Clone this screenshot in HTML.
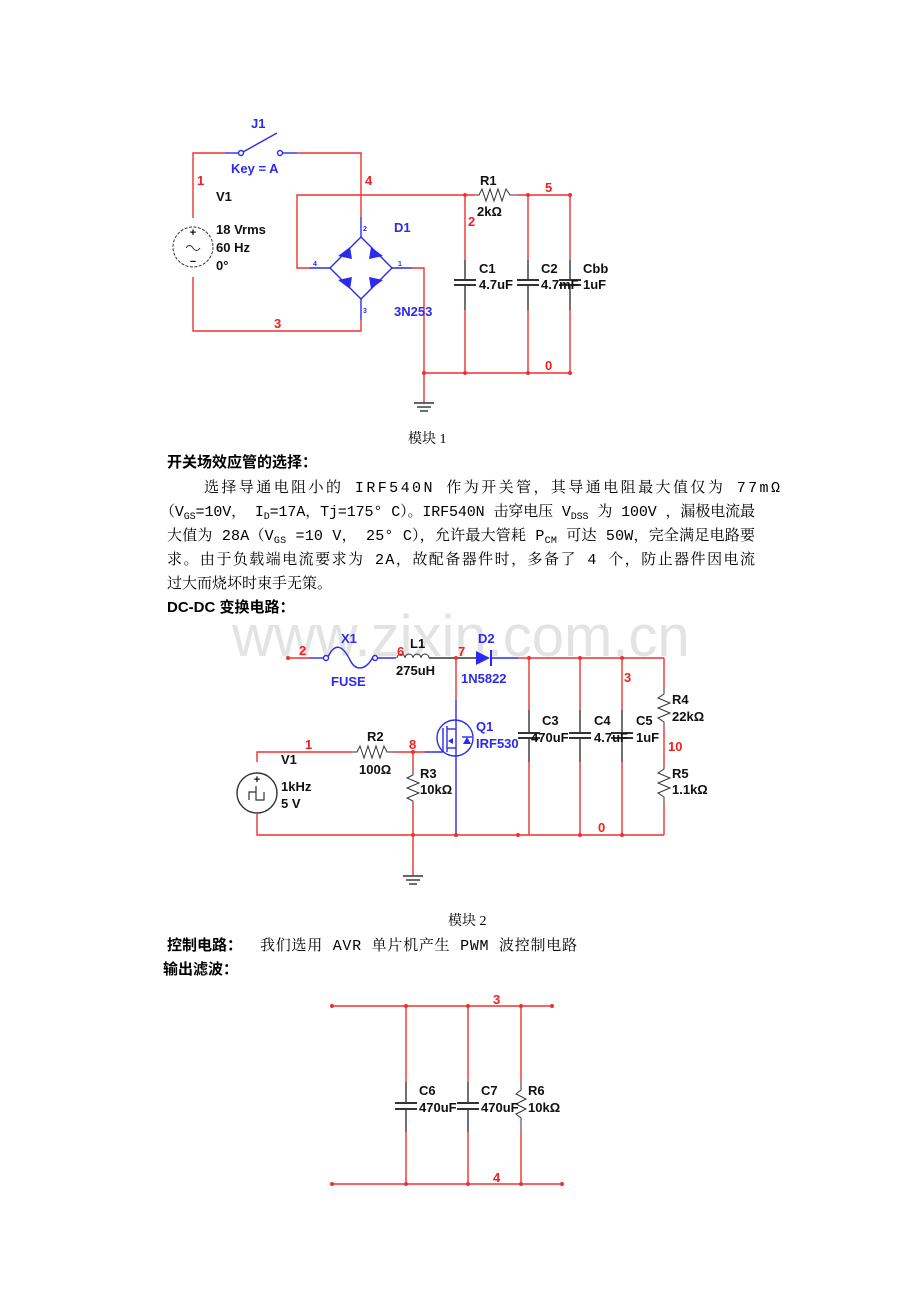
<!DOCTYPE html>
<html><head><meta charset="utf-8"><style>
html,body{margin:0;padding:0;background:#fff;}
svg{display:block}
.r{stroke:#f03030;stroke-width:1.4;fill:none}
.b{stroke:#2b2bf0;stroke-width:1.4;fill:none}
.k{stroke:#333;stroke-width:1.4;fill:none}
.t{font-family:"Liberation Sans",sans-serif;font-weight:bold;font-size:13px;fill:#111}
.tb{font-family:"Liberation Sans",sans-serif;font-weight:bold;font-size:13px;fill:#2b2bf0}
.tr{font-family:"Liberation Sans",sans-serif;font-weight:bold;font-size:13px;fill:#f02020}
.p{font-family:"Liberation Mono","Noto Serif CJK SC",serif;font-size:15px;fill:#000}
.c{font-family:"Liberation Serif","Noto Serif CJK SC",serif;font-size:14px;fill:#000}
.h{font-family:"Liberation Sans","Noto Sans CJK SC",sans-serif;font-size:15px;fill:#000;font-weight:bold}
.d{fill:#f03030}
</style></head><body>
<svg width="920" height="1302" viewBox="0 0 920 1302" xmlns="http://www.w3.org/2000/svg">
<!-- ===== Circuit 1 ===== -->
<polyline class="r" points="193,218 193,153 225,153"/>
<polyline class="b" points="225,153 238,153"/>
<circle cx="241" cy="153" r="2.5" class="b"/>
<line x1="243" y1="152" x2="277" y2="133" class="b"/>
<circle cx="280" cy="153" r="2.5" class="b"/>
<line x1="283" y1="153" x2="297" y2="153" class="b"/>
<polyline class="r" points="297,153 361,153 361,217"/>
<circle cx="193" cy="247" r="20" style="stroke:#333;fill:none;stroke-dasharray:3,1.5"/>
<text x="193" y="236" text-anchor="middle" class="t" style="font-size:11px">+</text>
<text x="193" y="265" text-anchor="middle" class="t" style="font-size:11px">−</text>
<path d="M186,248 q3.5,-5 7,0 t7,0" class="k" style="stroke-width:1"/>
<polyline class="r" points="193,277 193,331 361,331 361,320"/>
<line x1="361" y1="217" x2="361" y2="237" class="b"/>
<line x1="361" y1="299" x2="361" y2="320" class="b"/>
<polygon points="361,237 392,268 361,299 330,268" class="b"/>
<g fill="#2b2bf0">
<polygon points="338,256 350,247 352,259"/>
<polygon points="371,247 383,256 369,259"/>
<polygon points="338,280 352,277 350,289"/>
<polygon points="383,280 371,289 369,277"/>
</g>
<line x1="309" y1="268" x2="330" y2="268" class="b"/>
<line x1="392" y1="268" x2="412" y2="268" class="b"/>
<polyline class="r" points="309,268 297,268 297,195 475,195"/>
<polyline class="r" points="412,268 424,268 424,403"/>
<line x1="414" y1="403" x2="434" y2="403" class="k"/>
<line x1="417" y1="407" x2="431" y2="407" class="k"/>
<line x1="420" y1="411" x2="428" y2="411" class="k"/>
<polyline class="k" style="stroke-width:1" points="475,195 479,195 482,189 486,201 490,189 494,201 498,189 502,201 506,189 510,195 518,195"/>
<line x1="518" y1="195" x2="570" y2="195" class="r"/>
<line x1="424" y1="373" x2="570" y2="373" class="r"/>
<g>
<line x1="465" y1="195" x2="465" y2="260" class="r"/><line x1="465" y1="260" x2="465" y2="279" class="k"/>
<line x1="454" y1="280" x2="476" y2="280" class="k" style="stroke-width:2"/><line x1="454" y1="285" x2="476" y2="285" class="k" style="stroke-width:2"/>
<line x1="465" y1="286" x2="465" y2="310" class="k"/><line x1="465" y1="310" x2="465" y2="373" class="r"/>
<line x1="528" y1="195" x2="528" y2="260" class="r"/><line x1="528" y1="260" x2="528" y2="279" class="k"/>
<line x1="517" y1="280" x2="539" y2="280" class="k" style="stroke-width:2"/><line x1="517" y1="285" x2="539" y2="285" class="k" style="stroke-width:2"/>
<line x1="528" y1="286" x2="528" y2="310" class="k"/><line x1="528" y1="310" x2="528" y2="373" class="r"/>
<line x1="570" y1="195" x2="570" y2="260" class="r"/><line x1="570" y1="260" x2="570" y2="279" class="k"/>
<line x1="559" y1="280" x2="581" y2="280" class="k" style="stroke-width:2"/><line x1="559" y1="285" x2="581" y2="285" class="k" style="stroke-width:2"/>
<line x1="570" y1="286" x2="570" y2="310" class="k"/><line x1="570" y1="310" x2="570" y2="373" class="r"/>
</g>
<g class="d"><circle cx="465" cy="195" r="2"/><circle cx="528" cy="195" r="2"/><circle cx="570" cy="195" r="2"/>
<circle cx="424" cy="373" r="2"/><circle cx="465" cy="373" r="2"/><circle cx="528" cy="373" r="2"/><circle cx="570" cy="373" r="2"/></g>
<text x="251" y="128" class="tb">J1</text>
<text x="231" y="173" class="tb">Key = A</text>
<text x="197" y="185" class="tr">1</text>
<text x="365" y="185" class="tr">4</text>
<text x="216" y="201" class="t">V1</text>
<text x="216" y="234" class="t">18 Vrms</text>
<text x="216" y="252" class="t">60 Hz</text>
<text x="216" y="270" class="t">0°</text>
<text x="480" y="185" class="t">R1</text>
<text x="477" y="216" class="t">2kΩ</text>
<text x="468" y="226" class="tr">2</text>
<text x="545" y="192" class="tr">5</text>
<text x="394" y="232" class="tb">D1</text>
<text x="363" y="231" class="tb" style="font-size:7px">2</text>
<text x="313" y="266" class="tb" style="font-size:7px">4</text>
<text x="398" y="266" class="tb" style="font-size:7px">1</text>
<text x="363" y="313" class="tb" style="font-size:7px">3</text>
<text x="479" y="273" class="t">C1</text>
<text x="479" y="289" class="t">4.7uF</text>
<text x="541" y="273" class="t">C2</text>
<text x="541" y="289" class="t">4.7mF</text>
<text x="583" y="273" class="t">Cbb</text>
<text x="583" y="289" class="t">1uF</text>
<text x="394" y="316" class="tb">3N253</text>
<text x="274" y="328" class="tr">3</text>
<text x="545" y="370" class="tr">0</text>
<text x="408" y="443" class="c">模块 1</text>
<!-- text -->
<text x="167" y="467" class="h">开关场效应管的选择：</text>
<text x="204" y="492" class="p" textLength="576" lengthAdjust="spacing">选择导通电阻小的 IRF540N 作为开关管，其导通电阻最大值仅为 77mΩ</text>
<text x="160" y="516" class="p" textLength="595" lengthAdjust="spacing">（V<tspan font-size="10" dy="3">GS</tspan><tspan dy="-3">=10V， I</tspan><tspan font-size="10" dy="3">D</tspan><tspan dy="-3">=17A，Tj=175° C）。IRF540N 击穿电压 V</tspan><tspan font-size="10" dy="3">DSS</tspan><tspan dy="-3"> 为 100V ，漏极电流最</tspan></text>
<text x="167" y="540" class="p" textLength="588" lengthAdjust="spacing">大值为 28A（V<tspan font-size="10" dy="3">GS</tspan><tspan dy="-3"> =10 V， 25° C），允许最大管耗 P</tspan><tspan font-size="10" dy="3">CM</tspan><tspan dy="-3"> 可达 50W，完全满足电路要</tspan></text>
<text x="167" y="564" class="p" textLength="588" lengthAdjust="spacing">求。由于负载端电流要求为 2A，故配备器件时，多备了 4 个，防止器件因电流</text>
<text x="167" y="588" class="p">过大而烧坏时束手无策。</text>
<text x="167" y="612" class="h">DC-DC 变换电路：</text>
<!-- watermark -->
<text x="232" y="656" style="font-family:'Liberation Sans',sans-serif;font-size:58px;fill:#e3e3e3">www.zixin.com.cn</text>
<!-- ===== Circuit 2 ===== -->
<line x1="288" y1="658" x2="309" y2="658" class="r"/>
<line x1="309" y1="658" x2="324" y2="658" class="b"/>
<circle cx="326" cy="658" r="2.5" class="b"/><circle cx="375" cy="658" r="2.5" class="b"/>
<path d="M328,657 C336,640 344,648 350,660 C356,672 366,670 373,657" class="b"/>
<line x1="377" y1="658" x2="396" y2="658" class="b"/>
<path d="M397,658 a4,4 0 0 1 8,0 a4,4 0 0 1 8,0 a4,4 0 0 1 8,0 a4,4 0 0 1 8,0" class="k" style="stroke-width:1"/>
<line x1="429" y1="658" x2="476" y2="658" class="k"/>
<polygon points="476,651 476,665 490,658" fill="#2b2bf0"/>
<line x1="491" y1="650" x2="491" y2="666" class="b" style="stroke-width:2"/>
<line x1="491" y1="658" x2="518" y2="658" class="b"/>
<line x1="518" y1="658" x2="664" y2="658" class="r"/>
<line x1="456" y1="658" x2="456" y2="700" class="r"/>
<line x1="456" y1="700" x2="456" y2="835" class="b"/>
<circle cx="455" cy="738" r="18" class="b"/>
<line x1="425" y1="752" x2="443" y2="752" class="b"/>
<line x1="443" y1="728" x2="443" y2="752" class="b"/>
<line x1="447" y1="726" x2="447" y2="752" class="b"/>
<polyline class="b" points="447,729 456,729"/><polyline class="b" points="447,748 456,748"/>
<polygon points="448,741 453,738 453,744" fill="#2b2bf0"/>
<polygon points="463,744 467,737 471,744" fill="#2b2bf0"/>
<line x1="462" y1="737" x2="472" y2="737" class="b"/>
<polyline class="r" points="257,762 257,752 352,752"/>
<polyline class="k" style="stroke-width:1" points="352,752 357,752 360,746 364,758 368,746 372,758 376,746 380,758 384,746 387,752 393,752"/>
<line x1="393" y1="752" x2="425" y2="752" class="r"/>
<circle cx="257" cy="793" r="20" class="k"/>
<text x="257" y="783" text-anchor="middle" class="t" style="font-size:11px">+</text>
<polyline class="k" style="stroke-width:1.2" points="249,800 249,792 256,792 256,786 256,800 264,800 264,792"/>
<polyline class="r" points="257,813 257,835 664,835"/>
<line x1="413" y1="752" x2="413" y2="772" class="r"/>
<polyline class="k" style="stroke-width:1" points="413,772 413,775 407,778 419,783 407,788 419,793 407,798 413,801 413,804"/>
<line x1="413" y1="804" x2="413" y2="875" class="r"/>
<line x1="403" y1="876" x2="423" y2="876" class="k"/>
<line x1="406" y1="880" x2="420" y2="880" class="k"/>
<line x1="409" y1="884" x2="417" y2="884" class="k"/>
<g>
<line x1="529" y1="658" x2="529" y2="710" class="r"/><line x1="529" y1="710" x2="529" y2="732" class="k"/>
<line x1="518" y1="733" x2="540" y2="733" class="k" style="stroke-width:2"/><line x1="518" y1="738" x2="540" y2="738" class="k" style="stroke-width:2"/>
<line x1="529" y1="739" x2="529" y2="762" class="k"/><line x1="529" y1="762" x2="529" y2="835" class="r"/>
<line x1="580" y1="658" x2="580" y2="710" class="r"/><line x1="580" y1="710" x2="580" y2="732" class="k"/>
<line x1="569" y1="733" x2="591" y2="733" class="k" style="stroke-width:2"/><line x1="569" y1="738" x2="591" y2="738" class="k" style="stroke-width:2"/>
<line x1="580" y1="739" x2="580" y2="762" class="k"/><line x1="580" y1="762" x2="580" y2="835" class="r"/>
<line x1="622" y1="658" x2="622" y2="710" class="r"/><line x1="622" y1="710" x2="622" y2="732" class="k"/>
<line x1="611" y1="733" x2="633" y2="733" class="k" style="stroke-width:2"/><line x1="611" y1="738" x2="633" y2="738" class="k" style="stroke-width:2"/>
<line x1="622" y1="739" x2="622" y2="762" class="k"/><line x1="622" y1="762" x2="622" y2="835" class="r"/>
</g>
<line x1="664" y1="658" x2="664" y2="690" class="r"/>
<polyline class="k" style="stroke-width:1" points="664,690 664,694 658,698 670,703 658,708 670,713 658,718 664,722 664,728"/>
<line x1="664" y1="728" x2="664" y2="765" class="r"/>
<polyline class="k" style="stroke-width:1" points="664,765 664,769 658,773 670,778 658,783 670,788 658,793 664,797 664,803"/>
<line x1="664" y1="803" x2="664" y2="835" class="r"/>
<g class="d"><circle cx="288" cy="658" r="2"/><circle cx="456" cy="658" r="2"/><circle cx="529" cy="658" r="2"/><circle cx="580" cy="658" r="2"/><circle cx="622" cy="658" r="2"/>
<circle cx="413" cy="752" r="2"/><circle cx="413" cy="835" r="2"/><circle cx="456" cy="835" r="2"/><circle cx="518" cy="835" r="2"/><circle cx="580" cy="835" r="2"/><circle cx="622" cy="835" r="2"/></g>
<text x="341" y="643" class="tb">X1</text>
<text x="299" y="655" class="tr">2</text>
<text x="397" y="656" class="tr">6</text>
<text x="410" y="648" class="t">L1</text>
<text x="458" y="656" class="tr">7</text>
<text x="478" y="643" class="tb">D2</text>
<text x="396" y="675" class="t">275uH</text>
<text x="331" y="686" class="tb">FUSE</text>
<text x="461" y="683" class="tb">1N5822</text>
<text x="624" y="682" class="tr">3</text>
<text x="672" y="704" class="t">R4</text>
<text x="672" y="721" class="t">22kΩ</text>
<text x="668" y="751" class="tr">10</text>
<text x="476" y="731" class="tb">Q1</text>
<text x="476" y="748" class="tb">IRF530</text>
<text x="542" y="725" class="t">C3</text>
<text x="531" y="742" class="t">470uF</text>
<text x="594" y="725" class="t">C4</text>
<text x="594" y="742" class="t">4.7uF</text>
<text x="636" y="725" class="t">C5</text>
<text x="636" y="742" class="t">1uF</text>
<text x="305" y="749" class="tr">1</text>
<text x="367" y="741" class="t">R2</text>
<text x="359" y="774" class="t">100Ω</text>
<text x="409" y="749" class="tr">8</text>
<text x="281" y="764" class="t">V1</text>
<text x="281" y="791" class="t">1kHz</text>
<text x="281" y="808" class="t">5 V</text>
<text x="420" y="778" class="t">R3</text>
<text x="420" y="794" class="t">10kΩ</text>
<text x="672" y="778" class="t">R5</text>
<text x="672" y="794" class="t">1.1kΩ</text>
<text x="598" y="832" class="tr">0</text>
<text x="448" y="925" class="c">模块 2</text>
<text x="167" y="950" class="h">控制电路：</text>
<text x="260" y="950" class="p" textLength="317" lengthAdjust="spacing">我们选用 AVR 单片机产生 PWM 波控制电路</text>
<text x="163" y="974" class="h">输出滤波：</text>
<!-- ===== Circuit 3 ===== -->
<line x1="332" y1="1006" x2="552" y2="1006" class="r"/>
<line x1="332" y1="1184" x2="562" y2="1184" class="r"/>
<g>
<line x1="406" y1="1006" x2="406" y2="1082" class="r"/><line x1="406" y1="1082" x2="406" y2="1102" class="k"/>
<line x1="395" y1="1103" x2="417" y2="1103" class="k" style="stroke-width:2"/><line x1="395" y1="1109" x2="417" y2="1109" class="k" style="stroke-width:2"/>
<line x1="406" y1="1110" x2="406" y2="1132" class="k"/><line x1="406" y1="1132" x2="406" y2="1184" class="r"/>
<line x1="468" y1="1006" x2="468" y2="1082" class="r"/><line x1="468" y1="1082" x2="468" y2="1102" class="k"/>
<line x1="457" y1="1103" x2="479" y2="1103" class="k" style="stroke-width:2"/><line x1="457" y1="1109" x2="479" y2="1109" class="k" style="stroke-width:2"/>
<line x1="468" y1="1110" x2="468" y2="1132" class="k"/><line x1="468" y1="1132" x2="468" y2="1184" class="r"/>
<line x1="521" y1="1006" x2="521" y2="1082" class="r"/>
<polyline class="k" style="stroke-width:1" points="521,1082 521,1090 516,1094 526,1099 516,1104 526,1109 516,1114 521,1118 521,1132"/>
<line x1="521" y1="1132" x2="521" y2="1184" class="r"/>
</g>
<g class="d"><circle cx="332" cy="1006" r="2"/><circle cx="406" cy="1006" r="2"/><circle cx="468" cy="1006" r="2"/><circle cx="521" cy="1006" r="2"/><circle cx="552" cy="1006" r="2"/>
<circle cx="332" cy="1184" r="2"/><circle cx="406" cy="1184" r="2"/><circle cx="468" cy="1184" r="2"/><circle cx="521" cy="1184" r="2"/><circle cx="562" cy="1184" r="2"/></g>
<text x="493" y="1004" class="tr">3</text>
<text x="493" y="1182" class="tr">4</text>
<text x="419" y="1095" class="t">C6</text>
<text x="419" y="1112" class="t">470uF</text>
<text x="481" y="1095" class="t">C7</text>
<text x="481" y="1112" class="t">470uF</text>
<text x="528" y="1095" class="t">R6</text>
<text x="528" y="1112" class="t">10kΩ</text>
</svg>
</body></html>
